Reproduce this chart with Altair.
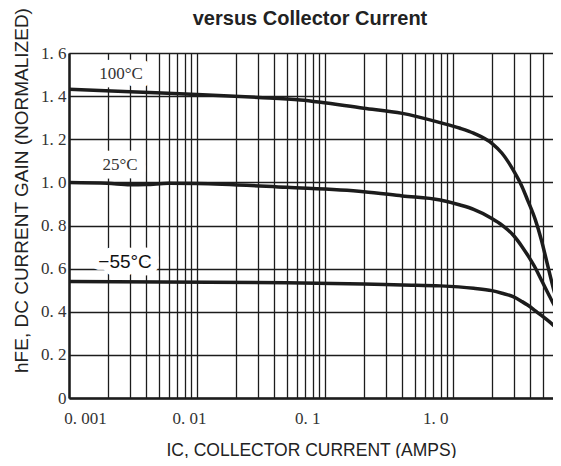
import altair as alt
import pandas as pd

# ---- curve data (IC in amps, normalized hFE) ----
x_100 = [0.001, 0.003, 0.01, 0.03, 0.064, 0.2, 0.4, 0.79, 1.13, 1.44, 2.0, 2.4, 2.93, 3.44, 3.8, 4.37, 4.87, 5.4, 6.0, 7.0]
h_100 = [1.432, 1.42, 1.408, 1.394, 1.382, 1.344, 1.32, 1.277, 1.251, 1.228, 1.181, 1.135, 1.058, 0.98, 0.918, 0.826, 0.733, 0.625, 0.515, 0.376]

x_25 = [0.001, 0.002, 0.003, 0.004, 0.006, 0.01, 0.05, 0.2, 0.4, 0.79, 1.13, 1.44, 2.0, 2.4, 2.93, 3.44, 3.8, 4.37, 4.87, 5.4, 6.0, 7.0]
h_25 = [1.0, 0.996, 0.989, 0.99, 0.996, 0.995, 0.977, 0.957, 0.937, 0.918, 0.895, 0.875, 0.833, 0.802, 0.756, 0.702, 0.663, 0.603, 0.547, 0.494, 0.441, 0.371]

x_m55 = [0.001, 0.05, 0.2, 0.4, 0.79, 1.44, 2.0, 2.4, 2.93, 3.44, 3.8, 4.37, 4.87, 5.4, 6.0, 7.0]
h_m55 = [0.540, 0.535, 0.529, 0.524, 0.52, 0.509, 0.498, 0.486, 0.470, 0.447, 0.431, 0.404, 0.383, 0.362, 0.339, 0.301]

# ---- curve labels ----
serif_labels = ["100°C", "25°C"]
serif_label_x = [0.00255, 0.0025]
serif_label_y = [1.503, 1.081]
sans_labels = ["−55°C"]
sans_label_x = [0.00274]
sans_label_y = [0.631]

# ---- axis ticks / labels ----
decades = [0.001, 0.01, 0.1, 1.0]
x_label_texts = ["0. 001", "0. 01", "0. 1", "1. 0"]
multipliers = [1, 2, 3, 4, 5, 6, 7, 8, 9]
y_ticks = [0, 0.2, 0.4, 0.6, 0.8, 1.0, 1.2, 1.4, 1.6]

x_grid = [m * d for d in decades for m in multipliers if m * d <= 5.5]

rows = []
for name, xs, hs in [("100", x_100, h_100), ("25", x_25, h_25), ("-55", x_m55, h_m55)]:
    for a, b in zip(xs, hs):
        rows.append({"T": name, "I": a, "h": b})
curves = pd.DataFrame(rows)
serif_df = pd.DataFrame({"label": serif_labels, "I": serif_label_x, "h": serif_label_y})
sans_df = pd.DataFrame({"label": sans_labels, "I": sans_label_x, "h": sans_label_y})

label_expr = " : ".join(
    f"datum.value == {v} ? '{t}'" for v, t in zip(decades, x_label_texts)
) + " : ''"

INK = "#1c1c1c"

x_enc = alt.X(
    "I:Q",
    scale=alt.Scale(type="log", domain=[0.001, 6.0], nice=False),
    axis=alt.Axis(
        values=x_grid,
        labelExpr=label_expr,
        title="IC, COLLECTOR CURRENT (AMPS)",
        titleFont="Liberation Sans",
        titleFontSize=17.5,
        titleFontWeight="normal",
        titleColor="#222",
        titlePadding=15,
        labelFont="Liberation Serif",
        labelFontSize=17,
        labelColor="#333",
        labelPadding=12,
        labelFlush=False,
        labelOverlap=False,
        labelOffset={
            "condition": [
                {"test": "datum.value == 0.001", "value": 16},
                {"test": "datum.value == 0.01", "value": -8},
            ],
            "value": -18,
        },
        tickSize=0,
        grid=True,
        gridColor=INK,
        gridWidth=1.3,
        gridOpacity=1,
        domainColor=INK,
        domainWidth=2.5,
    ),
)

y_enc = alt.Y(
    "h:Q",
    scale=alt.Scale(domain=[0, 1.6], nice=False),
    axis=alt.Axis(
        values=y_ticks,
        labelExpr="datum.value == 0 ? '0' : replace(format(datum.value, '.1f'), '.', '. ')",
        title="hFE, DC CURRENT GAIN (NORMALIZED)",
        titleFont="Liberation Sans",
        titleFontSize=19,
        titleFontWeight="normal",
        titleColor="#222",
        titlePadding=9,
        titleY=137,
        labelFont="Liberation Serif",
        labelFontSize=17,
        labelColor="#333",
        labelPadding=3,
        labelFlush=False,
        labelOverlap=False,
        tickSize=0,
        grid=True,
        gridColor=INK,
        gridWidth=1.3,
        gridOpacity=1,
        domainColor=INK,
        domainWidth=2.5,
    ),
)

lines = alt.Chart(curves).mark_line(
    color=INK, strokeWidth=3.5, interpolate="monotone", clip=True
).encode(x=x_enc, y=y_enc, detail="T:N")

halo_serif = alt.Chart(serif_df).mark_text(
    font="Liberation Serif", fontSize=17, stroke="white", strokeWidth=17,
    strokeJoin="round", fill="white", baseline="middle"
).encode(x=x_enc, y=y_enc, text="label:N")
text_serif = alt.Chart(serif_df).mark_text(
    font="Liberation Serif", fontSize=17, color="#333", baseline="middle"
).encode(x=x_enc, y=y_enc, text="label:N")

halo_sans = alt.Chart(sans_df).mark_text(
    font="Liberation Sans", fontSize=19, stroke="white", strokeWidth=15,
    strokeJoin="round", fill="white", baseline="middle"
).encode(x=x_enc, y=y_enc, text="label:N")
text_sans = alt.Chart(sans_df).mark_text(
    font="Liberation Sans", fontSize=19, color="#111", baseline="middle"
).encode(x=x_enc, y=y_enc, text="label:N")

chart = alt.layer(
    halo_serif, halo_sans, lines, text_serif, text_sans
).properties(
    width=484,
    height=345,
    autosize=alt.AutoSizeParams(type="none"),
    title=alt.TitleParams(
        "versus Collector Current",
        font="Liberation Sans",
        fontSize=20,
        fontWeight="bold",
        color="#222",
        frame="group",
        offset=-37.5,
        baseline="alphabetic",
        anchor="middle",
        dx=-1,
    ),
    padding={"left": 61, "top": 45, "right": 0, "bottom": 60},
).configure_view(strokeWidth=0).configure(background="white")

chart.save("out.html", embed_options={"renderer": "svg", "actions": False})
